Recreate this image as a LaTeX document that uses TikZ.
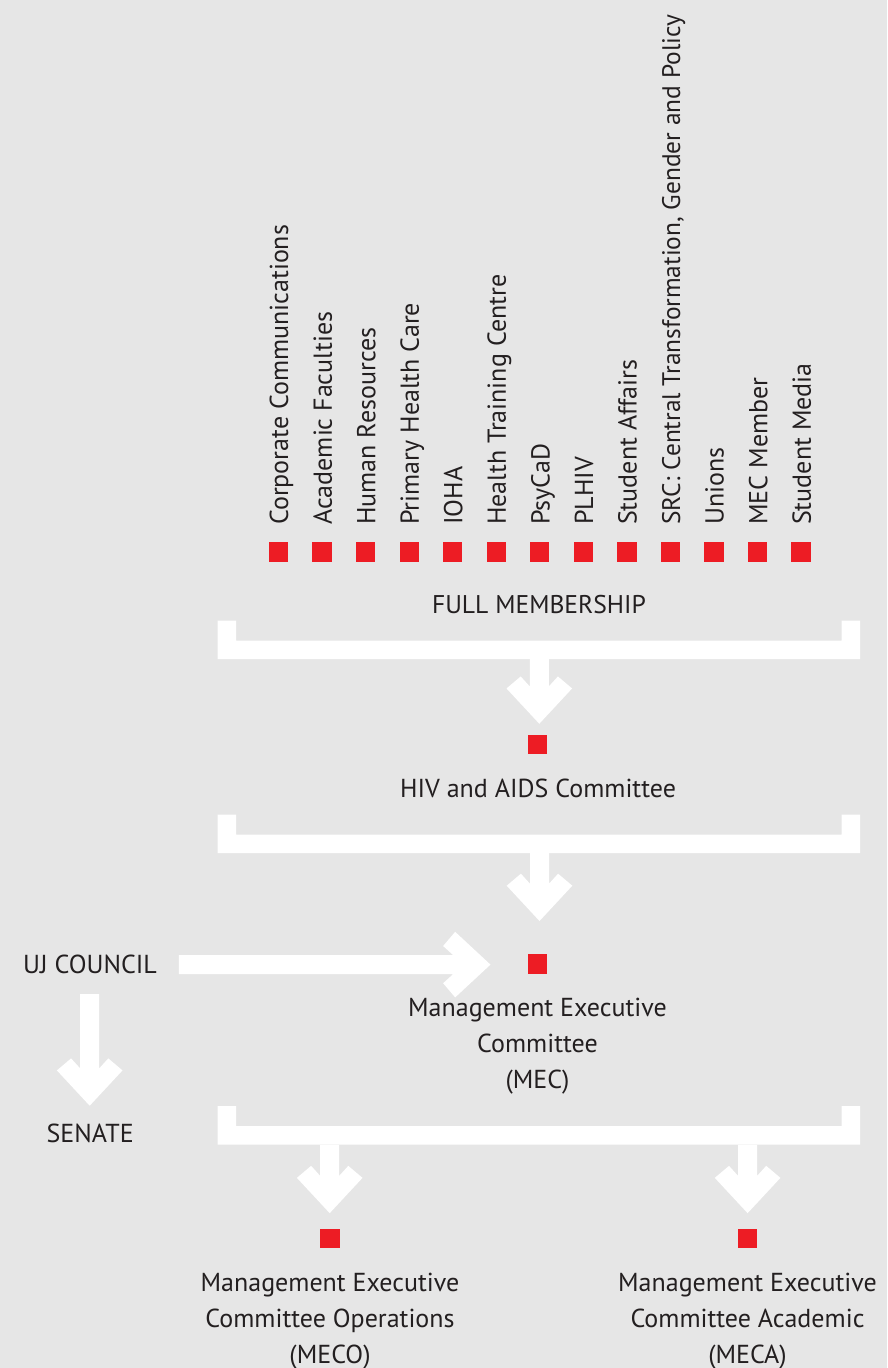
\documentclass[tikz,border=0pt]{standalone}
\usepackage{fontspec}
\setmainfont{PT Sans}
\usetikzlibrary{calc}
\definecolor{bgc}{HTML}{E6E6E6}
\definecolor{redsq}{HTML}{ED1C24}
\definecolor{txt}{HTML}{231F20}
\tikzset{
  lbl/.style={font=\fontsize{26}{35.7}\selectfont, text=txt, inner sep=0pt, align=center},
  vlbl/.style={lbl, rotate=90, anchor=base west},
  sq/.style={fill=redsq, draw=none, minimum size=19.3pt, inner sep=0pt},
  pics/fatarrow/.style={code={
    \fill[white] (-9.5,{-#1}) -- (-9.5,-37.3) -- (-18.6,-47.3) -- (-32.8,-35.3) -- (0,0)
      -- (32.8,-35.3) -- (18.6,-47.3) -- (9.5,-37.3) -- (9.5,{-#1}) -- cycle;
  }},
  pics/bracket/.style={code={
    \fill[white] (0,0) -- (18.5,0) -- (18.5,20) -- (624.1,20) -- (624.1,0) -- (642.5,0)
      -- (642.5,38.5) -- (0,38.5) -- cycle;
  }}
}
\begin{document}
\begin{tikzpicture}[x=1pt,y=-1pt]
\fill[bgc] (0,0) rectangle (887,1368);
\useasboundingbox (0,0) rectangle (887,1368);

% top members
\foreach \t [count=\i from 0] in {Corporate Communications, Academic Faculties, Human Resources,
  Primary Health Care, IOHA, Health Training Centre, PsyCaD, PLHIV, Student Affairs,
  {\fontsize{25.4}{35.7}\selectfont SRC: Central Transformation, Gender and Policy}, Unions, MEC Member, Student Media}{
  \node[sq] (m\i) at ({278.5+43.55*\i},551.9) {};
  \node[vlbl] (l\i) at ($(m\i)+(9.7,-26.9)$) {\t};
}
\node[lbl, anchor=base, font=\fontsize{25.6}{35.7}\selectfont] (full) at (539,613.3) {FULL MEMBERSHIP};

% bracket 1 and arrow to HIV committee
\pic (b1) at (217.5,620.7) {bracket};
\node[sq] (hiv) at (537.5,744.3) {};
\coordinate (a1tip) at ($(hiv.north)+(1.8,-10.7)$);
\pic at (a1tip) {fatarrow=65.3};
\node[lbl, anchor=base] (hivt) at (538,797.7) {HIV and AIDS Committee};

% bracket 2 and arrow to MEC
\pic (b2) at (217.5,814.7) {bracket};
\node[sq] (mec) at (537.5,964) {};
\coordinate (a2tip) at (539.5,921);
\pic at (a2tip) {fatarrow=68.3};
\node[lbl, anchor=base] (mect) at (537.5,1088.1) {Management Executive\\Committee\\(MEC)};

% UJ council and senate
\node[lbl, anchor=base] (uj) at (90,973.3) {UJ COUNCIL};
\coordinate (a3tip) at ($(mec.west)+(-37.2,0.6)$);
\pic[rotate=90] at (a3tip) {fatarrow=311.7};
\node[lbl, anchor=base] (senate) at (90.2,1142.3) {SENATE};
\coordinate (a4tip) at (89.7,1105.7);
\pic at (a4tip) {fatarrow=111.7};

% bracket 3 and arrows to MECO / MECA
\pic (b3) at (217.5,1106) {bracket};
\node[sq] (meco) at (330,1238.2) {};
\node[sq] (meca) at (747.7,1238.2) {};
\coordinate (a5tip) at ($(meco.north)+(-0.3,-15.2)$);
\coordinate (a6tip) at ($(meca.north)+(-0.1,-15.2)$);
\pic at (a5tip) {fatarrow=68.3};
\pic at (a6tip) {fatarrow=68.3};
\node[lbl, anchor=base] (mecot) at (330,1363.1) {Management Executive\\Committee Operations\\(MECO)};
\node[lbl, anchor=base] (mecat) at (747.5,1363.1) {Management Executive\\Committee Academic\\(MECA)};
\end{tikzpicture}
\end{document}
